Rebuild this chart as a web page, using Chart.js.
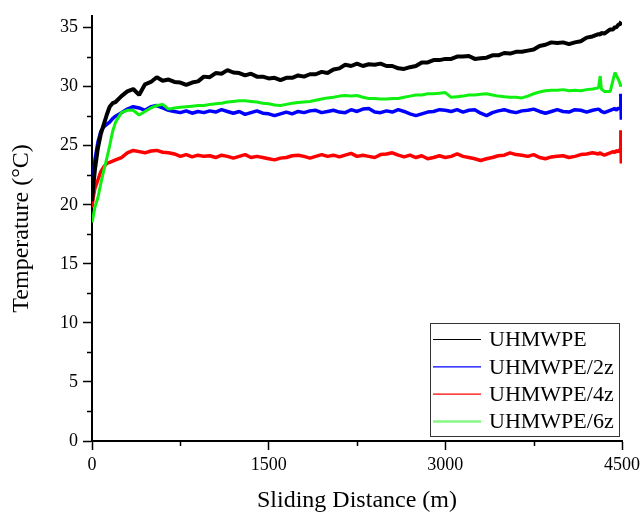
<!DOCTYPE html>
<html>
<head>
<meta charset="utf-8">
<script src="https://cdn.jsdelivr.net/npm/chart.js@4.4.0/dist/chart.umd.min.js"></script>
<style>
  body { margin: 0; background: #fff; }
  #grafico { display: block; }
</style>
</head>
<body>
<canvas id="grafico" width="644" height="513"></canvas>
<script>
// Dados
const dist = [0, 10, 25, 50, 75, 100, 125, 150, 175, 200,
  250, 300, 350, 400, 450, 500, 550, 600, 650, 700, 750, 800, 850, 900, 950, 1000,
  1050, 1100, 1150, 1200, 1250, 1300, 1350, 1400, 1450, 1500,
  1550, 1600, 1650, 1700, 1750, 1800, 1850, 1900, 1950, 2000,
  2050, 2100, 2150, 2200, 2250, 2300, 2350, 2400, 2450, 2500,
  2550, 2600, 2650, 2700, 2750, 2800, 2850, 2900, 2950, 3000,
  3050, 3100, 3150, 3200, 3250, 3300, 3350, 3400, 3450, 3500,
  3550, 3600, 3650, 3700, 3750, 3800, 3850, 3900, 3950, 4000,
  4050, 4100, 4150, 4200, 4250, 4300,
  4315, 4325, 4350, 4400, 4425, 4440, 4450, 4470, 4485, 4490, 4494];

const uhmwpe = [20.3, 21.5, 23.0, 24.8, 26.0, 26.8, 27.6, 28.3, 28.6, 28.7,
  29.2, 29.6, 29.8, 29.3, 30.2, 30.4, 30.8, 30.5, 30.6, 30.4, 30.35, 30.15, 30.35, 30.45, 30.85, 30.8,
  31.15, 31.1, 31.4, 31.2, 31.15, 30.95, 31.1, 30.85, 30.85, 30.7,
  30.75, 30.55, 30.75, 30.75, 30.95, 30.85, 31.05, 31.05, 31.25, 31.15,
  31.45, 31.55, 31.85, 31.75, 31.95, 31.75, 31.9, 31.85, 31.95, 31.75,
  31.75, 31.55, 31.5, 31.65, 31.75, 32.05, 32.05, 32.25, 32.25, 32.35,
  32.35, 32.55, 32.55, 32.6, 32.35, 32.4, 32.45, 32.65, 32.65, 32.85,
  32.8, 32.95, 32.95, 33.05, 33.15, 33.45, 33.55, 33.75, 33.7, 33.75,
  33.6, 33.75, 33.85, 34.15, 34.25, 34.45,
  34.4, 34.55, 34.5, 34.85, 34.85, 35.05, 35.0, 35.25, 35.3, 35.45, 35.5];

const uhmwpe2z = [20.5, 22.0, 23.8, 25.3, 26.2, 26.6, 26.8, 27.0, 27.3, 27.5,
  27.8, 28.1, 28.3, 28.2, 28.0, 28.3, 28.4, 28.2, 28.0, 27.9, 27.8, 27.95, 27.75, 27.9, 27.8, 27.95,
  27.85, 28.05, 27.9, 27.75, 27.9, 27.65, 27.8, 27.95, 27.75, 27.7,
  27.55, 27.7, 27.85, 27.7, 27.9, 27.8, 27.95, 28.0, 27.8, 27.9,
  28.0, 27.85, 27.8, 28.05, 27.9, 28.1, 28.15, 27.85, 27.8, 27.95,
  27.85, 28.05, 27.9, 27.7, 27.55, 27.7, 27.85, 27.9, 28.05, 28.0,
  27.9, 28.05, 27.85, 28.0, 28.05, 27.75, 27.55, 27.8, 27.95, 28.05,
  27.9, 27.8, 27.95, 28.0, 28.1, 27.9, 27.75, 27.9, 28.05, 27.9,
  27.85, 28.05, 28.0, 27.85, 28.0, 28.1,
  28.0, 27.9, 27.8, 28.0, 28.1, 28.15, 28.0, 28.2, 28.1, 29.4, 27.2];

const uhmwpe4z = [19.8, 20.6, 21.4, 22.1, 22.8, 23.2, 23.5, 23.6, 23.7, 23.8,
  24.0, 24.4, 24.6, 24.5, 24.4, 24.55, 24.6, 24.45, 24.4, 24.3, 24.1, 24.25, 24.05, 24.2, 24.1, 24.15,
  24.0, 24.2, 24.1, 23.95, 24.1, 24.25, 24.0, 24.1, 24.0, 23.9,
  23.8, 23.95, 24.0, 24.15, 24.2, 24.1, 23.95, 24.1, 24.25, 24.1,
  24.2, 24.05, 24.2, 24.35, 24.1, 24.2, 24.1, 24.0, 24.25, 24.3,
  24.4, 24.2, 24.05, 24.2, 24.0, 24.15, 23.9, 24.0, 24.15, 24.0,
  24.1, 24.3, 24.1, 24.0, 23.9, 23.75, 23.9, 24.0, 24.15, 24.2,
  24.4, 24.25, 24.2, 24.1, 24.25, 24.0, 23.9, 24.05, 24.1, 24.15,
  24.0, 24.1, 24.25, 24.3, 24.4, 24.3,
  24.4, 24.3, 24.2, 24.4, 24.5, 24.4, 24.6, 24.5, 24.7, 26.3, 23.5];

const uhmwpe6z = [18.5, 19.0, 19.8, 20.6, 21.8, 22.9, 23.9, 25.0, 26.2, 27.0,
  27.8, 28.0, 28.0, 27.6, 27.9, 28.2, 28.4, 28.5, 28.1, 28.2, 28.25, 28.3, 28.35, 28.4, 28.4, 28.5,
  28.55, 28.6, 28.7, 28.75, 28.8, 28.8, 28.75, 28.7, 28.6, 28.55,
  28.45, 28.4, 28.5, 28.6, 28.65, 28.7, 28.75, 28.85, 28.95, 29.05,
  29.1, 29.2, 29.25, 29.2, 29.25, 29.1, 29.0, 29.0, 28.95, 28.95,
  29.0, 29.0, 29.1, 29.2, 29.3, 29.3, 29.4, 29.4, 29.45, 29.5,
  29.1, 29.15, 29.2, 29.3, 29.3, 29.35, 29.4, 29.3, 29.2, 29.15,
  29.1, 29.1, 29.05, 29.2, 29.4, 29.55, 29.65, 29.7, 29.7, 29.75,
  29.65, 29.7, 29.65, 29.75, 29.8, 29.9,
  30.9, 29.8, 29.6, 29.6, 30.6, 31.2, 31.0, 30.6, 30.2, 30.0, null];

const series = ['UHMWPE', 'UHMWPE/2z', 'UHMWPE/4z', 'UHMWPE/6z'];
const cores = ['#000000', '#0000ff', '#ff0000', '#10f010'];
const xTicks = [0, 1500, 3000, 4500];
const yTicks = [0, 5, 10, 15, 20, 25, 30, 35];

const fonte = "'Liberation Serif', 'Times New Roman', serif";

const pontos = arr => dist.map((d, i) => ({ x: d, y: arr[i] }));

// Marcas menores nos eixos (meio dos intervalos)
const tracosMenores = {
    id: 'tracosMenores',
    afterDraw(chart) {
        const ctx = chart.ctx;
        const xs = chart.scales.x;
        const ys = chart.scales.y;
        ctx.save();
        ctx.strokeStyle = '#000';
        ctx.lineWidth = 1.5;
        ctx.beginPath();
        for (let i = 0; i < yTicks.length - 1; i++) {
            const py = Math.round(ys.getPixelForValue((yTicks[i] + yTicks[i + 1]) / 2)) + 0.5;
            ctx.moveTo(ys.right - 5, py);
            ctx.lineTo(ys.right, py);
        }
        for (let i = 0; i < xTicks.length - 1; i++) {
            const px = Math.round(xs.getPixelForValue((xTicks[i] + xTicks[i + 1]) / 2)) + 0.5;
            ctx.moveTo(px, xs.top);
            ctx.lineTo(px, xs.top + 5);
        }
        ctx.stroke();
        ctx.restore();
    }
};

// Legenda em caixa, dentro da área do gráfico
const legendaCaixa = {
    id: 'legendaCaixa',
    afterDraw(chart) {
        const ctx = chart.ctx;
        const area = chart.chartArea;
        const x0 = area.right - 192, y0 = area.bottom - 118, w = 189, h = 113;
        ctx.save();
        ctx.fillStyle = '#fff';
        ctx.fillRect(x0, y0, w, h);
        ctx.strokeStyle = '#333';
        ctx.lineWidth = 1;
        ctx.strokeRect(x0 + 0.5, y0 + 0.5, w, h);
        ctx.font = '22px ' + fonte;
        ctx.textBaseline = 'middle';
        ctx.textAlign = 'left';
        chart.data.datasets.forEach((ds, i) => {
            const py = y0 + 16.5 + i * 27.3;
            ctx.strokeStyle = ds.borderColor;
            ctx.lineWidth = i === 3 ? 2.5 : 1.2;
            ctx.globalAlpha = i === 3 ? 0.5 : 1;
            ctx.beginPath();
            ctx.moveTo(x0 + 3, py);
            ctx.lineTo(x0 + 51, py);
            ctx.stroke();
            ctx.globalAlpha = 1;
            ctx.fillStyle = '#000';
            ctx.fillText(ds.label, x0 + 59, py + 1);
        });
        ctx.restore();
    }
};

const larguras = [4, 3.5, 3.5, 3];

const grafico = document.getElementById('grafico').getContext('2d');
const chart = new Chart(grafico, {
    type: 'line',
    data: {
        datasets: series.map((nome, i) => ({
            label: nome,
            data: pontos([uhmwpe, uhmwpe2z, uhmwpe4z, uhmwpe6z][i]),
            borderColor: cores[i],
            borderWidth: larguras[i],
            borderJoinStyle: 'bevel',
            pointRadius: 0,
            tension: 0,
            fill: false,
            order: i === 3 ? 0 : i + 1
        }))
    },
    options: {
        responsive: false,
        devicePixelRatio: 1,
        animation: false,
        layout: { padding: { top: 12, right: 18, left: 0, bottom: 0 } },
        plugins: {
            legend: { display: false },
            tooltip: { enabled: false }
        },
        scales: {
            x: {
                type: 'linear',
                min: 0,
                max: 4500,
                afterBuildTicks: s => { s.ticks = xTicks.map(v => ({ value: v })); },
                afterFit: s => { s.height = 72; },
                grid: { display: true, drawOnChartArea: false, drawTicks: true, tickLength: 9, tickColor: '#000', tickWidth: 1.5 },
                border: { display: true, color: '#000', width: 2 },
                ticks: { color: '#000', font: { family: fonte, size: 18 }, padding: 4, maxRotation: 0, callback: v => String(v) },
                title: { display: true, text: 'Sliding Distance (m)', color: '#000', font: { family: fonte, size: 24, lineHeight: 1 }, padding: { top: 0, bottom: 0 } }
            },
            y: {
                min: 0,
                max: 36,
                afterBuildTicks: s => { s.ticks = yTicks.map(v => ({ value: v })); },
                afterFit: s => { s.width = 92; },
                grid: { display: true, drawOnChartArea: false, drawTicks: true, tickLength: 9, tickColor: '#000', tickWidth: 1.5 },
                border: { display: true, color: '#000', width: 2 },
                ticks: { color: '#000', font: { family: fonte, size: 18 }, padding: 5, callback: v => String(v) },
                title: { display: true, text: 'Temperature (°C)', color: '#000', font: { family: fonte, size: 24 }, padding: { top: 7, bottom: 0 } }
            }
        }
    },
    plugins: [tracosMenores, legendaCaixa]
});
</script>
</body>
</html>
